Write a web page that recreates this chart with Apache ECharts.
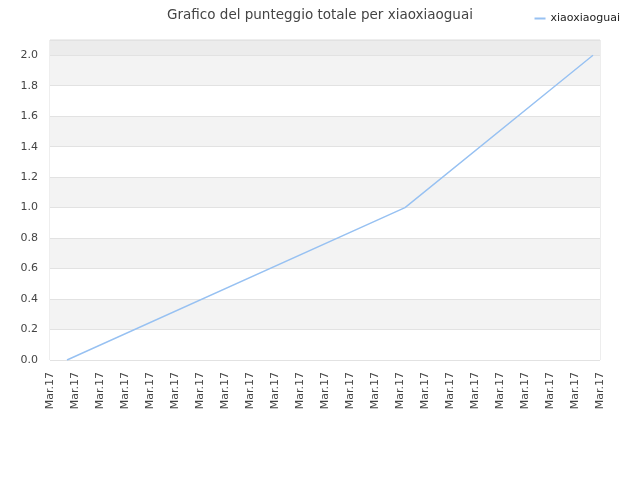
<!DOCTYPE html>
<html>
<head>
<meta charset="utf-8">
<script src="https://cdn.jsdelivr.net/npm/echarts@6/dist/echarts.min.js"></script>
<style>
  html, body { margin: 0; padding: 0; background: #fff; }
  #chart1 { width: 640px; height: 480px; }
</style>
</head>
<body>
<div id="chart1"></div>
<script>
// data
const seriesName = 'xiaoxiaoguai';
const xTickLabels = ['Mar.17', 'Mar.17', 'Mar.17', 'Mar.17', 'Mar.17', 'Mar.17', 'Mar.17', 'Mar.17',
  'Mar.17', 'Mar.17', 'Mar.17', 'Mar.17', 'Mar.17', 'Mar.17', 'Mar.17', 'Mar.17',
  'Mar.17', 'Mar.17', 'Mar.17', 'Mar.17', 'Mar.17', 'Mar.17', 'Mar.17'];
const pointPos = [0.68, 14.2, 21.72];   // position along the time axis
const scores = [0, 1.0, 2.0];

let myChart = echarts.init(document.getElementById('chart1'));
const font = 'DejaVu Sans';
const option = {
    animation: false,
    title: {
        text: 'Grafico del punteggio totale per ' + seriesName,
        left: 'center',
        top: 3,
        textStyle: { fontFamily: font, fontSize: 13.5, fontWeight: 'normal', color: '#444' }
    },
    legend: {
        right: 15,
        top: 8,
        itemWidth: 11,
        itemHeight: 2,
        icon: 'rect',
        textStyle: { fontFamily: font, fontSize: 11, color: '#222' },
        data: [seriesName]
    },
    grid: { left: 50, right: 40, top: 40, bottom: 120, show: true, borderColor: '#dcdcdc', borderWidth: 1 },
    xAxis: {
        type: 'value',
        min: 0,
        max: xTickLabels.length - 1,
        interval: 1,
        axisLine: { show: false },
        axisTick: { show: false },
        splitLine: { show: false },
        axisLabel: {
            rotate: 90,
            margin: 12,
            fontFamily: font,
            fontSize: 11,
            color: '#444',
            formatter: v => xTickLabels[Math.round(v)]
        }
    },
    yAxis: {
        type: 'value',
        min: 0,
        max: 2.1,
        interval: 0.2,
        axisLine: { show: false },
        axisTick: { show: false },
        axisLabel: {
            margin: 12,
            fontFamily: font,
            fontSize: 11,
            color: '#444',
            showMaxLabel: false,
            formatter: v => v.toFixed(1)
        },
        splitLine: { lineStyle: { color: '#e2e2e2' } },
        splitArea: {
            show: true,
            areaStyle: {
                color: ['#ffffff', '#f3f3f3', '#ffffff', '#f3f3f3', '#ffffff', '#f3f3f3',
                        '#ffffff', '#f3f3f3', '#ffffff', '#f3f3f3', '#ececec']
            }
        }
    },
    series: [{
        name: seriesName,
        type: 'line',
        data: pointPos.map((x, i) => [x, scores[i]]),
        showSymbol: false,
        lineStyle: { color: '#97c1f2', width: 1.4 },
        itemStyle: { color: '#97c1f2' }
    }]
};
myChart.setOption(option);
</script>
</body>
</html>
